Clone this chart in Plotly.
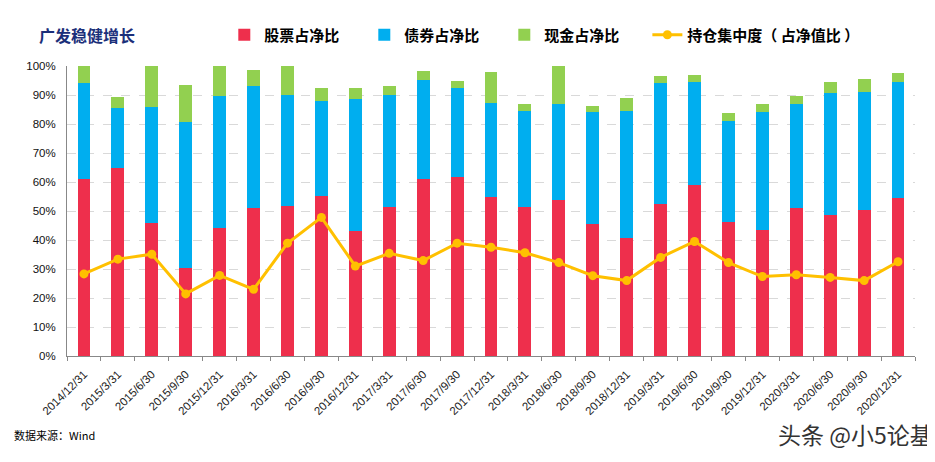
import plotly.graph_objects as go

dates = ["2014/12/31","2015/3/31","2015/6/30","2015/9/30","2015/12/31","2016/3/31","2016/6/30",
         "2016/9/30","2016/12/31","2017/3/31","2017/6/30","2017/9/30","2017/12/31","2018/3/31",
         "2018/6/30","2018/9/30","2018/12/31","2019/3/31","2019/6/30","2019/9/30","2019/12/31",
         "2020/3/31","2020/6/30","2020/9/30","2020/12/31"]
stock = [61.0,64.8,45.9,30.5,44.1,51.0,51.7,55.2,43.1,51.4,61.1,61.7,54.8,51.4,53.8,45.5,40.7,52.4,59.0,46.2,43.4,51.0,48.6,50.3,54.5]
bond = [33.0,20.8,40.0,50.2,45.6,42.1,38.3,32.7,45.6,38.6,34.2,30.8,32.3,33.1,33.1,38.6,43.8,41.7,35.5,34.8,40.7,35.9,42.1,40.7,40.0]
cash = [6.0,3.7,14.1,12.7,10.3,5.5,10.0,4.5,3.7,3.1,3.1,2.3,10.8,2.4,13.1,2.1,4.5,2.5,2.4,2.8,2.8,2.8,3.8,4.5,3.1]
concentration = [28.3,33.4,35.1,21.4,27.8,23.0,38.9,47.8,31.0,35.4,32.9,38.9,37.5,35.6,32.2,27.7,26.0,34.0,39.5,32.2,27.4,28.0,27.1,26.0,32.5]
ytick_vals = [0,10,20,30,40,50,60,70,80,90,100]
ytick_text = [f"{v}%" for v in ytick_vals]

fig = go.Figure()
fig.add_trace(go.Bar(x=dates, y=stock, name="股票占净比", marker_color="#EE2F4C", marker_line_width=0))
fig.add_trace(go.Bar(x=dates, y=bond, name="债券占净比", marker_color="#00AEEF", marker_line_width=0))
fig.add_trace(go.Bar(x=dates, y=cash, name="现金占净比", marker_color="#92D050", marker_line_width=0))
fig.add_trace(go.Scatter(x=dates, y=concentration, name="持仓集中度（ 占净值比 ）", mode="lines+markers",
                         line=dict(color="#FFC000", width=3), marker=dict(size=9, color="#FFC000"),
                         legend="legend2"))

legend_font = dict(size=15, family="Noto Sans CJK SC", color="#000", weight="bold")
fig.update_layout(
    width=927, height=454, barmode="stack", bargap=0.62,
    margin=dict(l=59, r=20, t=58, b=106, autoexpand=False),
    plot_bgcolor="white", paper_bgcolor="white",
    font=dict(family="Noto Sans CJK SC", color="#000000"),
    showlegend=True,
    legend=dict(orientation="h", x=0.1855, xanchor="left", y=1.107, yanchor="middle",
                font=legend_font, entrywidth=95, entrywidthmode="pixels", itemwidth=30,
                bgcolor="rgba(0,0,0,0)", traceorder="normal"),
    legend2=dict(orientation="h", x=0.6844, xanchor="left", y=1.107, yanchor="middle",
                 font=legend_font, itemwidth=30, bgcolor="rgba(0,0,0,0)"),
    xaxis=dict(type="category", range=[-0.5, len(dates) - 0.5], tickangle=-45, automargin=False,
               tickfont=dict(size=11.5, family="Liberation Sans", color="#222"),
               ticklabelstandoff=6,
               showline=True, linecolor="#888888", linewidth=1, ticks="outside", tickson="boundaries",
               ticklen=4, tickcolor="#888888", showgrid=False),
    yaxis=dict(range=[0, 100], tickvals=ytick_vals, ticktext=ytick_text, automargin=False,
               tickfont=dict(size=11.5, family="Liberation Sans", color="#111"),
               ticklabelstandoff=8,
               showline=True, linecolor="#888888", linewidth=1, showgrid=True, gridcolor="#D9D9D9",
               griddash="dash", gridwidth=1, zeroline=False, ticks=""),
)
fig.add_annotation(text="<b>广发稳健增长</b>", xref="paper", yref="paper", x=-0.0356, y=1.107,
                   xanchor="left", yanchor="middle", showarrow=False,
                   font=dict(size=16, color="#1B2F7A", family="Noto Sans CJK SC"))
fig.add_annotation(text="数据来源：Wind", xref="paper", yref="paper", x=-0.0645, y=-0.271,
                   xanchor="left", yanchor="middle", showarrow=False,
                   font=dict(size=11, color="#000", family="Noto Sans CJK SC"))
fig.add_annotation(text="头条 @小5论基", xref="paper", yref="paper", x=1.0236, y=-0.27,
                   xanchor="right", yanchor="middle", showarrow=False,
                   font=dict(size=23, color="#333", family="Noto Sans CJK SC"))
fig.write_html("out.html")
